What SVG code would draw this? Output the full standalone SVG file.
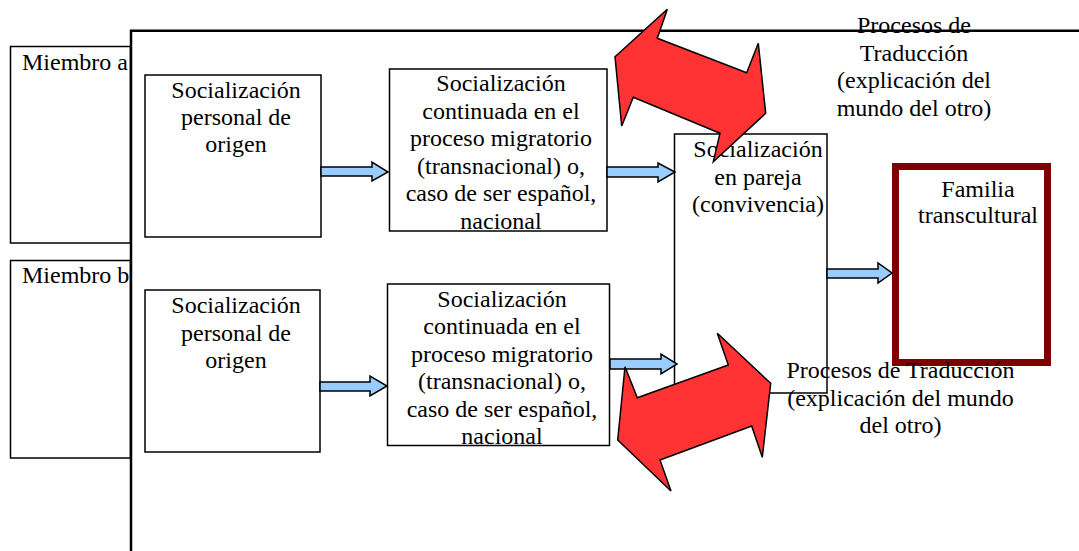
<svg xmlns="http://www.w3.org/2000/svg" width="1079" height="551" viewBox="0 0 1079 551">
<style>
  .box { fill: #ffffff; stroke: #000000; stroke-width: 1.5; }
  .t { font-family: "Liberation Serif", "Times New Roman", serif; font-size: 24px; fill: #000000; }
  .c { text-anchor: middle; }
  .blue { fill: #99CCFF; stroke: #000000; stroke-width: 1.5; stroke-linejoin: miter; }
  .red { fill: #FF3333; stroke: #000000; stroke-width: 1.5; stroke-linejoin: miter; }
  .frame { fill: none; stroke: #000000; stroke-width: 2.5; }
</style>
<rect width="1079" height="551" fill="#ffffff"/>

<g id="miembro-a">
  <rect class="box" x="10.5" y="46.5" width="120" height="196.5"/>
  <text class="t" x="22" y="70">Miembro a</text>
</g>
<g id="miembro-b">
  <rect class="box" x="10.5" y="260.5" width="120" height="197.5"/>
  <text class="t" x="22" y="283">Miembro b</text>
</g>

<g id="frame">
  <path class="frame" d="M131,551 V30.8 H1079"/>
</g>

<g id="origen-a">
  <rect class="box" x="145" y="75" width="176" height="162"/>
  <text class="t c" x="236" y="98">Socialización</text>
  <text class="t c" x="236" y="125">personal de</text>
  <text class="t c" x="236" y="152">origen</text>
</g>
<g id="origen-b">
  <rect class="box" x="145" y="290" width="175" height="162"/>
  <text class="t c" x="236" y="313">Socialización</text>
  <text class="t c" x="236" y="340.5">personal de</text>
  <text class="t c" x="236" y="368">origen</text>
</g>

<g id="migratorio-a">
  <rect class="box" x="389.5" y="69" width="217.5" height="162"/>
  <text class="t c" x="501" y="91">Socialización</text>
  <text class="t c" x="501" y="118.5">continuada en el</text>
  <text class="t c" x="501" y="146">proceso migratorio</text>
  <text class="t c" x="501" y="173.5">(transnacional) o,</text>
  <text class="t c" x="501" y="201">caso de ser español,</text>
  <text class="t c" x="501" y="228.5">nacional</text>
</g>
<g id="migratorio-b">
  <rect class="box" x="387.5" y="284" width="222" height="161.5"/>
  <text class="t c" x="502" y="306.5">Socialización</text>
  <text class="t c" x="502" y="334">continuada en el</text>
  <text class="t c" x="502" y="361.5">proceso migratorio</text>
  <text class="t c" x="502" y="389">(transnacional) o,</text>
  <text class="t c" x="502" y="416.5">caso de ser español,</text>
  <text class="t c" x="502" y="443.5">nacional</text>
</g>

<g id="familia">
  <rect x="895.5" y="166.5" width="152" height="196" fill="#ffffff" stroke="#7F0000" stroke-width="7"/>
  <text class="t c" x="978" y="197">Familia</text>
  <text class="t c" x="978" y="223">transcultural</text>
</g>

<g id="pareja">
  <rect class="box" x="674.5" y="134" width="152.5" height="259"/>
  <text class="t c" x="758" y="157">Socialización</text>
  <text class="t c" x="758" y="185">en pareja</text>
  <text class="t c" x="758" y="212">(convivencia)</text>
</g>

<g id="connectors">
  <polygon class="blue" points="321,167 372,167 372,162 388,172 372,181 372,176 321,176"/>
  <polygon class="blue" points="607,167 658,167 658,163 675,172 658,182 658,177 607,177"/>
  <polygon class="blue" points="320,382 370,382 370,376 387,386 370,396 370,391 320,391"/>
  <polygon class="blue" points="610,359 661,359 661,354 677,364 661,374 661,369 610,369"/>
  <polygon class="blue" points="827,269 878,269 878,263 892,273 878,283 878,278 827,278"/>
</g>

<g id="traduccion-a">
  <polygon class="red" points="615,56.7 667.3,9.3 657.3,38.3 746.7,72.7 758.3,43.3 765.7,113.3 713.3,161.7 720,133.3 633.3,97.3 621.7,126"/>
  <text class="t c" x="914" y="33">Procesos de</text>
  <text class="t c" x="914" y="60.5">Traducción</text>
  <text class="t c" x="914" y="88">(explicación del</text>
  <text class="t c" x="914" y="115.5">mundo del otro)</text>
</g>

<g id="traduccion-b">
  <polygon class="red" points="617.7,440 625,366.7 637.3,397.7 728.3,365 717.3,333.3 770.7,383.3 762.3,457.3 751.7,426 660,460 671,491"/>
  <text class="t c" x="900.5" y="378">Procesos de Traducción</text>
  <text class="t c" x="900.5" y="406">(explicación del mundo</text>
  <text class="t c" x="900.5" y="433">del otro)</text>
</g>
</svg>
